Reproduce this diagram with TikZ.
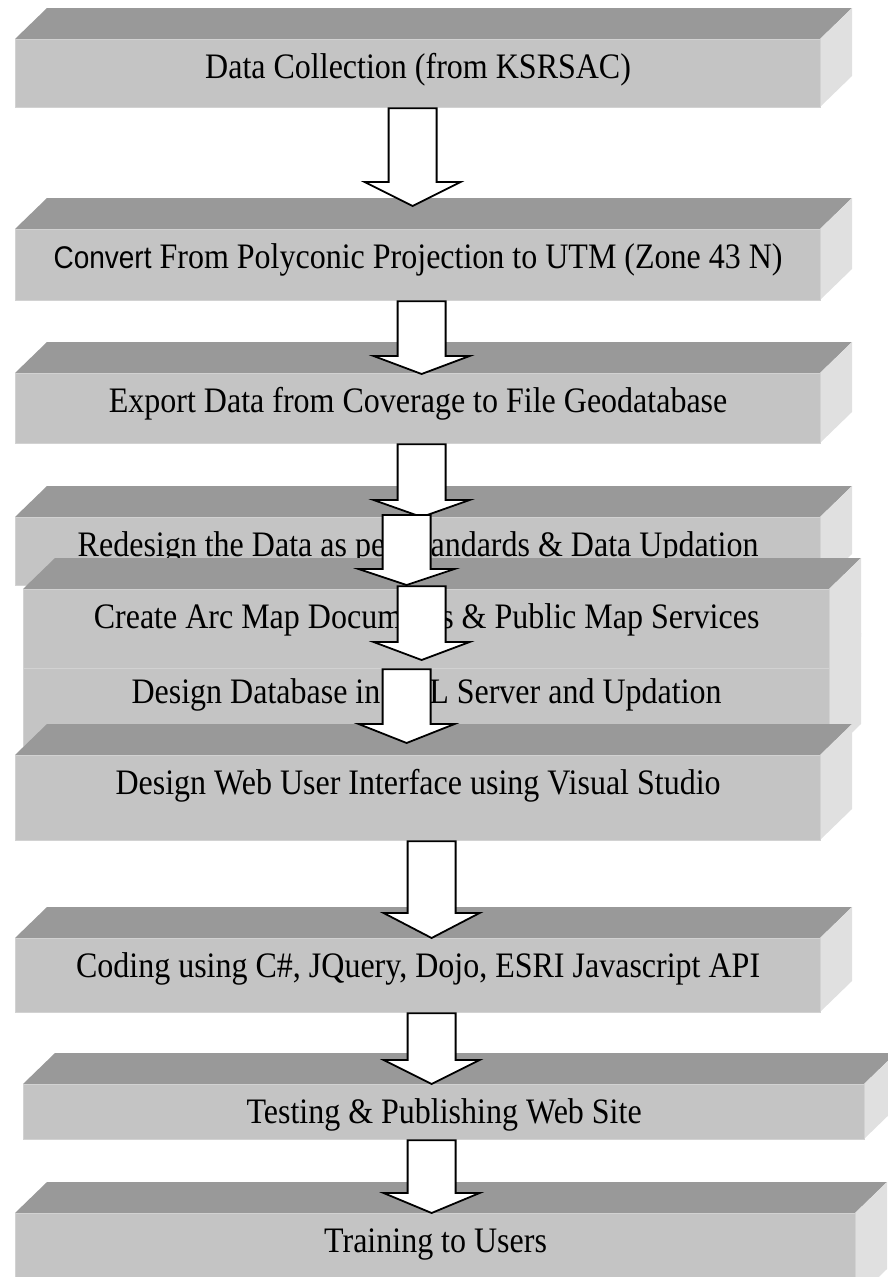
\documentclass[tikz,border=0pt]{standalone}
\usepackage{fontspec}
\setmainfont{Liberation Serif}
\newfontfamily\convfont{Liberation Sans}
\usetikzlibrary{calc}
\definecolor{flowTopGray}{HTML}{999999}
\definecolor{flowFrontGray}{HTML}{C4C4C4}
\definecolor{flowSideGray}{HTML}{E0E0E0}
\definecolor{flowRimGray}{HTML}{D2D2D2}

% hollow block arrow: from, tip, head length
\newcommand{\blockarrow}[3]{%
  \draw[flowarrow] let \p1=(#1), \p2=(#2) in
    (\x1-24pt,\y1) -- (\x1-24pt,\y2+#3pt) -- (\x1-48pt,\y2+#3pt) -- (\x1,\y2)
    -- (\x1+48pt,\y2+#3pt) -- (\x1+24pt,\y2+#3pt) -- (\x1+24pt,\y1) -- cycle;
}

\begin{document}
\begin{tikzpicture}[x=1pt, y=-1pt,
    every node/.style={font=\fontsize{32}{38}\selectfont, inner sep=0pt},
    frontface/.style={fill=flowFrontGray, draw=flowRimGray, line width=1.2pt, anchor=north west},
    flowarrow/.style={fill=white, draw=black, line width=1.8pt, line join=miter}]
    \useasboundingbox (0,0) rectangle (887,1277);
    \foreach \n/\l/\r/\t/\b/\txt in {
        1/15/820/39/107/{Data Collection (from KSRSAC)},
        2/15/820/229/300/{{\convfont\fontsize{28}{33}\selectfont Convert} From Polyconic Projection to UTM (Zone 43 N)},
        3/15/820/373/443/{Export Data from Coverage to File Geodatabase},
        4/15/820/517/585/{Redesign the Data as per Standards \& Data Updation},
        6/23/829/664/755/{Design Database in SQL Server and Updation},
        5/23/829/589/668/{Create Arc Map Documents \& Public Map Services},
        7/15/820/755/840/{Design Web User Interface using Visual Studio},
        8/15/820/938/1012/{Coding using C\#, JQuery, Dojo, ESRI Javascript API},
        9/23/864/1084/1139/{Testing \& Publishing Web Site},
        10/15/855/1213/1300/{Training to Users}}{
        \fill[flowTopGray] (\l,\t) -- (\l+32,\t-31) -- (\r+32,\t-31) -- (\r,\t) -- cycle;
        \fill[flowSideGray] (\r,\t) -- (\r+32,\t-31) -- (\r+32,\b-31) -- (\r,\b) -- cycle;
        \node[frontface, minimum width=\r-\l, minimum height=\b-\t] (b\n) at (\l,\t) {};
        \node[anchor=base] (l\n) at ($(b\n.north)+(0,39)$) {\scalebox{1}[1.12]{\txt}};
    }
    \blockarrow{$(b1.south)+(-5.5,0)$}{$(b2.north)+(0,-23)$}{24}
    \blockarrow{$(b2.south)+(3.5,0)$}{$(b3.north)+(0,1)$}{18}
    \blockarrow{$(b3.south)+(3.5,0)$}{b4.north}{17}
    \blockarrow{$(b4.north)+(-11.5,-2)$}{$(b5.north)+(0,-4)$}{16}
    \blockarrow{$(b4.south)+(3.5,0)$}{$(b6.north)+(0,-4)$}{18}
    \blockarrow{$(b5.south)+(-20,0)$}{$(b7.north)+(0,-12)$}{19}
    \blockarrow{$(b7.south)+(13.5,0)$}{b8.north}{25}
    \blockarrow{$(b8.south)+(13.5,0)$}{b9.north}{24}
    \blockarrow{$(b9.south)+(-12.5,0)$}{b10.north}{20}
\end{tikzpicture}
\end{document}
